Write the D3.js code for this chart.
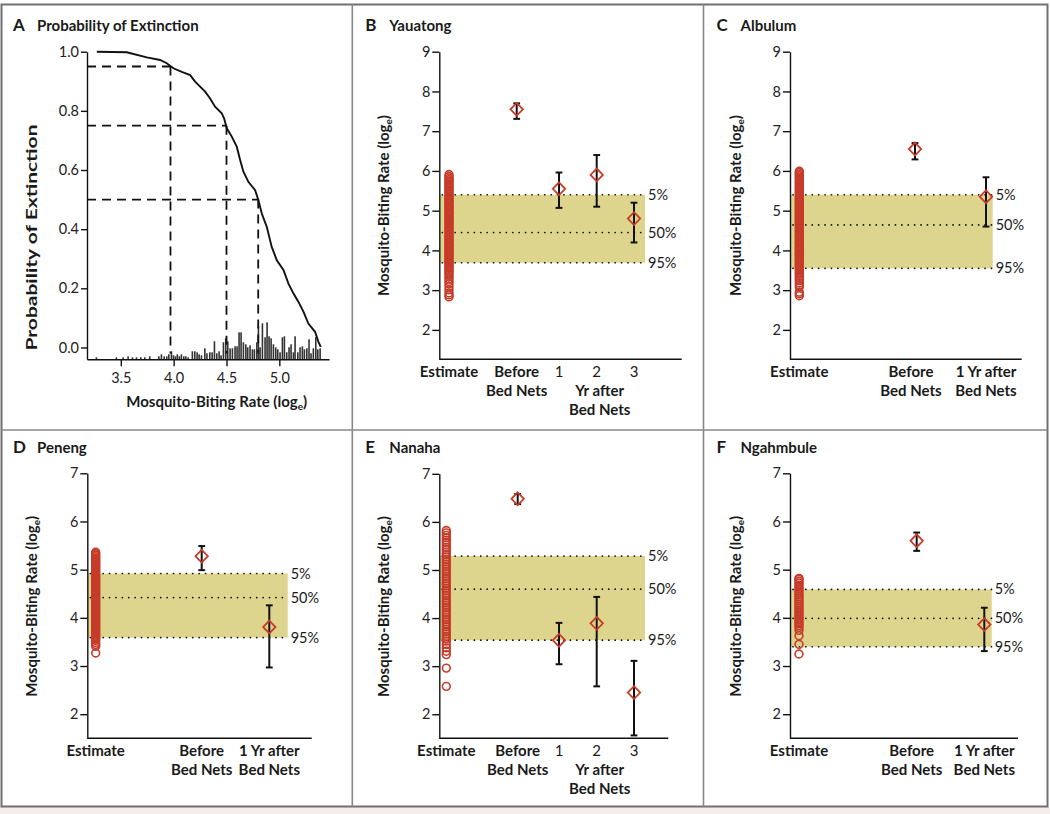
<!DOCTYPE html>
<html lang="en">
<head>
<meta charset="UTF-8"/>
<title>Mosquito-biting rate and extinction</title>
<script src="https://d3js.org/d3.v7.min.js"></script>
<style>
  body { margin: 0; background: #fff; }
  text { font-family: Lato, "Open Sans", sans-serif; fill: #1a1a1a; }
  .tick text { font-family: Lato, "Open Sans", sans-serif; font-size: 14.5px; fill: #222; }
  .axis .domain, .axis .tick line { stroke: #111; stroke-width: 1.4px; }
</style>
</head>
<body>
<div id="chart"></div>
<script>

// ---- panel A: probability of extinction curve + histogram
var rateA = [3.273, 3.556, 3.746, 3.872, 3.935, 3.998, 4.077, 4.156, 4.203, 4.250, 4.298, 4.345, 4.392, 4.455, 4.477, 4.503,
             4.550, 4.597, 4.629, 4.660, 4.707, 4.771, 4.802, 4.834, 4.881, 4.928, 4.976, 5.039, 5.086, 5.133, 5.181, 5.228,
             5.275, 5.338, 5.370, 5.392]
var probA = [1.000, 0.998, 0.981, 0.972, 0.961, 0.944, 0.932, 0.921, 0.899, 0.882, 0.865, 0.842, 0.814, 0.792, 0.775, 0.741,
             0.713, 0.679, 0.634, 0.594, 0.560, 0.532, 0.498, 0.453, 0.408, 0.340, 0.295, 0.262, 0.216, 0.183, 0.154, 0.121,
             0.081, 0.053, 0.019, 0.002]

var histRate = [3.269, 3.458, 3.522, 3.569, 3.610, 3.648, 3.689, 3.727, 3.774, 3.860, 3.884, 3.910, 3.935, 3.954, 3.979, 3.998,
                4.017, 4.035, 4.054, 4.073, 4.096, 4.115, 4.137, 4.177, 4.200, 4.222, 4.241, 4.263, 4.295, 4.315, 4.342, 4.364,
                4.386, 4.408, 4.430, 4.449, 4.471, 4.493, 4.512, 4.534, 4.556, 4.581, 4.600, 4.619, 4.638, 4.660, 4.683, 4.701,
                4.723, 4.745, 4.764, 4.787, 4.802, 4.818, 4.840, 4.865, 4.884, 4.903, 4.922, 4.944, 4.966, 4.985, 5.007, 5.029,
                5.048, 5.070, 5.092, 5.111, 5.133, 5.149, 5.175, 5.196, 5.218, 5.237, 5.260, 5.281, 5.300, 5.322, 5.345, 5.364, 5.386]
var histCount = [2, 2, 2, 3, 2, 2, 2, 2, 3, 3, 5, 3, 3, 5, 8, 4,
                 3, 5, 3, 5, 3, 3, 2, 8, 8, 7, 5, 4, 11, 6, 7, 7,
                 18, 6, 8, 4, 17, 21, 18, 11, 11, 13, 13, 27, 27, 17, 15, 12,
                 14, 10, 10, 17, 33, 12, 36, 22, 37, 23, 21, 15, 12, 10, 7, 22,
                 23, 7, 12, 15, 7, 23, 7, 12, 13, 10, 11, 20, 6, 11, 22, 10, 11]

var guideProb = [0.95, 0.75, 0.50]
var guideRate = [3.97, 4.50, 4.80]

// ---- site panels
var pctLabels = ["5%", "50%", "95%"]

var catsYr = ["Estimate", "Before", "1", "2", "3"]
var cats1Yr = ["Estimate", "Before", "1 Yr"]

// B Yauatong
var estB = [2.83, 2.88, 2.93, 3.01, 3.09, 3.16, 3.22, 3.28, 3.33, 3.38, 3.43, 3.47, 3.51, 3.55, 3.59, 3.62, 3.66, 3.70, 3.73,
            3.77, 3.81, 3.85, 3.88, 3.92, 3.96, 3.99, 4.03, 4.07, 4.11, 4.14, 4.18, 4.22, 4.26, 4.29, 4.33, 4.37, 4.40, 4.44,
            4.48, 4.52, 4.55, 4.59, 4.63, 4.67, 4.70, 4.74, 4.78, 4.81, 4.85, 4.89, 4.93, 4.96, 5.00, 5.04, 5.08, 5.11, 5.15,
            5.19, 5.22, 5.26, 5.30, 5.34, 5.37, 5.41, 5.45, 5.49, 5.52, 5.56, 5.60, 5.63, 5.67, 5.71, 5.75, 5.78, 5.82, 5.86, 5.91]
var obsB = [7.55, 5.55, 5.90, 4.80]
var lowB = [7.31, 5.07, 5.10, 4.20]
var highB = [7.70, 5.96, 6.40, 5.20]
var bandB = [5.40, 4.45, 3.69]

// C Albulum
var estC = [2.86, 2.91, 2.95, 3.08, 3.13, 3.18, 3.24, 3.30, 3.35, 3.40, 3.44, 3.48, 3.52, 3.56, 3.60, 3.63, 3.67, 3.71, 3.75,
            3.78, 3.82, 3.86, 3.90, 3.93, 3.97, 4.01, 4.05, 4.08, 4.12, 4.16, 4.20, 4.23, 4.27, 4.31, 4.35, 4.38, 4.42, 4.46,
            4.50, 4.53, 4.57, 4.61, 4.65, 4.68, 4.72, 4.76, 4.80, 4.83, 4.87, 4.91, 4.95, 4.98, 5.02, 5.06, 5.10, 5.13, 5.17,
            5.21, 5.25, 5.28, 5.32, 5.36, 5.40, 5.43, 5.47, 5.51, 5.55, 5.58, 5.62, 5.66, 5.70, 5.73, 5.77, 5.81, 5.85, 5.88,
            5.92, 5.96, 5.99]
var obsC = [6.55, 5.35]
var lowC = [6.29, 4.60]
var highC = [6.70, 5.84]
var bandC = [5.40, 4.64, 3.55]

// D Peneng
var estD = [3.27, 3.41, 3.45, 3.49, 3.53, 3.56, 3.59, 3.62, 3.65, 3.68, 3.71, 3.74, 3.77, 3.80, 3.83, 3.86, 3.89, 3.92, 3.95,
            3.98, 4.01, 4.04, 4.07, 4.10, 4.13, 4.16, 4.19, 4.22, 4.25, 4.28, 4.31, 4.34, 4.37, 4.40, 4.43, 4.46, 4.49, 4.52,
            4.55, 4.58, 4.61, 4.64, 4.67, 4.70, 4.73, 4.76, 4.79, 4.82, 4.85, 4.88, 4.91, 4.94, 4.97, 5.00, 5.03, 5.06, 5.09,
            5.12, 5.15, 5.18, 5.21, 5.24, 5.27, 5.30, 5.33, 5.36]
var obsD = [5.28, 3.81]
var lowD = [4.99, 2.97]
var highD = [5.49, 4.26]
var bandD = [4.92, 4.42, 3.59]

// E Nanaha
var estE = [2.58, 2.96, 3.24, 3.31, 3.38, 3.45, 3.52, 3.57, 3.62, 3.67, 3.72, 3.77, 3.82, 3.87, 3.92, 3.97, 4.02, 4.07, 4.12,
            4.17, 4.22, 4.27, 4.32, 4.37, 4.42, 4.47, 4.52, 4.57, 4.62, 4.67, 4.72, 4.77, 4.82, 4.87, 4.92, 4.97, 5.02, 5.07,
            5.12, 5.17, 5.22, 5.27, 5.32, 5.37, 5.42, 5.47, 5.52, 5.57, 5.62, 5.67, 5.72, 5.77, 5.82]
var obsE = [6.48, 3.54, 3.89, 2.45]
var lowE = [6.37, 3.04, 2.58, 1.56]
var highE = [6.58, 3.90, 4.44, 3.11]
var bandE = [5.29, 4.60, 3.54]

// F Ngahmbule
var estF = [3.25, 3.45, 3.63, 3.74, 3.80, 3.84, 3.88, 3.92, 3.96, 4.00, 4.04, 4.08, 4.12, 4.16, 4.20, 4.24, 4.28, 4.32, 4.36,
            4.40, 4.44, 4.48, 4.52, 4.56, 4.60, 4.64, 4.68, 4.72, 4.76, 4.80, 4.82]
var obsF = [5.60, 3.86]
var lowF = [5.39, 3.31]
var highF = [5.77, 4.21]
var bandF = [4.59, 3.99, 3.40]


var RED = "#c73b29"
var BAND = "#ddd48e"

var svg = d3.select("#chart")
  .append("svg")
    .attr("width", 1050)
    .attr("height", 814)

// frame
svg.append("rect").attr("x", 0).attr("y", 807).attr("width", 1050).attr("height", 7).attr("fill", "#f4ede9")
svg.append("rect").attr("x", 1.5).attr("y", 4.5).attr("width", 1046).attr("height", 802)
  .attr("fill", "none").attr("stroke", "#707070").attr("stroke-width", 2)
svg.append("line").attr("x1", 352.3).attr("x2", 352.3).attr("y1", 4.5).attr("y2", 806.5).attr("stroke", "#888").attr("stroke-width", 1.6)
svg.append("line").attr("x1", 703.5).attr("x2", 703.5).attr("y1", 4.5).attr("y2", 806.5).attr("stroke", "#888").attr("stroke-width", 1.6)
svg.append("line").attr("x1", 1.5).attr("x2", 1047.5).attr("y1", 430).attr("y2", 430).attr("stroke", "#888").attr("stroke-width", 1.6)

function title(x0, y, letter, name) {
  svg.append("text").attr("x", x0 + 13).attr("y", y).attr("font-weight", "bold").attr("font-size", 17).text(letter)
  svg.append("text").attr("x", x0 + 37).attr("y", y).attr("font-weight", "bold").attr("font-size", 15).text(name)
}

function rateLabel(x, y, rotate) {
  var t = svg.append("text")
    .attr("transform", "translate(" + x + "," + y + ")" + (rotate ? " rotate(-90)" : ""))
    .attr("text-anchor", "middle").attr("font-weight", "bold").attr("font-size", 15)
  t.append("tspan").text("Mosquito-Biting Rate (log")
  t.append("tspan").attr("dy", 3).attr("font-size", 10).text("e")
  t.append("tspan").attr("dy", -3).text(")")
}

// ================= panel A
var xA = d3.scaleLinear().domain([3.18, 5.47]).range([87, 329])
var yA = d3.scaleLinear().domain([-0.04, 1]).range([359.3, 51.7])
var hA = d3.scaleLinear().domain([0, 40]).range([0, 40])

title(0, 31, "A", "Probability of Extinction")

svg.append("g").selectAll("rect")
  .data(histRate)
  .join("rect")
    .attr("x", function(d) { return xA(d) - 0.8 })
    .attr("width", 1.6)
    .attr("y", function(d, i) { return yA(-0.04) - hA(histCount[i]) })
    .attr("height", function(d, i) { return hA(histCount[i]) })
    .attr("fill", "#333")

var guides = svg.append("g").attr("stroke", "#111").attr("stroke-width", 1.8).attr("stroke-dasharray", "9,6")
guides.selectAll("line.h").data(guideProb).join("line").attr("class", "h")
  .attr("x1", xA.range()[0]).attr("x2", function(d, i) { return xA(guideRate[i]) })
  .attr("y1", function(d) { return yA(d) }).attr("y2", function(d) { return yA(d) })
guides.selectAll("line.v").data(guideRate).join("line").attr("class", "v")
  .attr("x1", function(d) { return xA(d) }).attr("x2", function(d) { return xA(d) })
  .attr("y1", function(d, i) { return yA(guideProb[i]) }).attr("y2", yA(-0.02))

svg.append("path")
  .datum(rateA)
  .attr("fill", "none").attr("stroke", "#111").attr("stroke-width", 1.9)
  .attr("d", d3.line().x(function(d) { return xA(d) }).y(function(d, i) { return yA(probA[i]) }))

svg.append("g").attr("class", "axis").attr("transform", "translate(0," + yA(-0.04) + ")")
  .call(d3.axisBottom(xA).tickValues([3.5, 4.0, 4.5, 5.0]).tickFormat(d3.format(".1f")).tickSize(7).tickPadding(6).tickSizeOuter(0))
svg.append("g").attr("class", "axis").attr("transform", "translate(" + xA.range()[0] + ",0)")
  .call(d3.axisLeft(yA).tickValues([0, 0.2, 0.4, 0.6, 0.8, 1.0]).tickFormat(d3.format(".1f")).tickSize(6).tickPadding(2).tickSizeOuter(0))

svg.append("text")
  .attr("transform", "translate(36.5,237.5) rotate(-90)")
  .attr("text-anchor", "middle").attr("font-weight", "bold").attr("font-size", 15)
  .attr("textLength", 226).attr("lengthAdjust", "spacingAndGlyphs")
  .text("Probability of Extinction")
rateLabel(216.7, 407.3, false)

// ================= site panels
var labelsYr = [
  {t: "Estimate", c: 0, row: 0, b: true}, {t: "Before", c: 1, row: 0, b: true}, {t: "Bed Nets", c: 1, row: 1, b: true},
  {t: "1", c: 2, row: 0, b: false}, {t: "2", c: 3, row: 0, b: false}, {t: "3", c: 4, row: 0, b: false},
  {t: "Yr after", c: 3, row: 1, b: true, dx: 3}, {t: "Bed Nets", c: 3, row: 2, b: true, dx: 3}
]
var labels1Yr = [
  {t: "Estimate", c: 0, row: 0, b: true}, {t: "Before", c: 1, row: 0, b: true}, {t: "Bed Nets", c: 1, row: 1, b: true},
  {t: "1 Yr after", c: 2, row: 0, b: true}, {t: "Bed Nets", c: 2, row: 1, b: true}
]

var panels = [
  {x0: 352.3, letter: "B", name: "Yauatong", axisX: 439.3, right: 681.7, top: 51.7, bottom: 359.3, yDom: [1.26, 9], ticks: [2, 3, 4, 5, 6, 7, 8, 9],
   cats: catsYr, catX: [449, 516.7, 559, 596.7, 634], bandRight: 645, est: estB, obs: obsB, low: lowB, high: highB, band: bandB, labels: labelsYr},
  {x0: 703.5, letter: "C", name: "Albulum", axisX: 790, right: 1021.7, top: 51.7, bottom: 359.3, yDom: [1.26, 9], ticks: [2, 3, 4, 5, 6, 7, 8, 9],
   cats: cats1Yr, catX: [799.3, 915, 986], bandRight: 992.7, est: estC, obs: obsC, low: lowC, high: highC, band: bandC, labels: labels1Yr, beforeDx: -4},
  {x0: 0, letter: "D", name: "Peneng", axisX: 87.3, right: 311.7, top: 473.3, bottom: 738.3, yDom: [1.5, 7], ticks: [2, 3, 4, 5, 6, 7],
   cats: cats1Yr, catX: [95.7, 201.7, 269.3], bandRight: 287.7, est: estD, obs: obsD, low: lowD, high: highD, band: bandD, labels: labels1Yr, beforeDx: 0},
  {x0: 352.3, letter: "E", name: "Nanaha", axisX: 439.3, right: 668.3, top: 473.8, bottom: 738.3, yDom: [1.5, 7], ticks: [2, 3, 4, 5, 6, 7],
   cats: catsYr, catX: [446.3, 517.7, 559, 596.7, 634], bandRight: 645, est: estE, obs: obsE, low: lowE, high: highE, band: bandE, labels: labelsYr},
  {x0: 703.5, letter: "F", name: "Ngahmbule", axisX: 790, right: 1018, top: 473.3, bottom: 738.3, yDom: [1.5, 7], ticks: [2, 3, 4, 5, 6, 7],
   cats: cats1Yr, catX: [799, 916.7, 984.3], bandRight: 991.7, est: estF, obs: obsF, low: lowF, high: highF, band: bandF, labels: labels1Yr, beforeDx: -5}
]

panels.forEach(function(p) {
  var g = svg.append("g")
  var y = d3.scaleLinear().domain(p.yDom).range([p.bottom, p.top])
  var x = d3.scaleOrdinal().domain(p.cats).range(p.catX)

  title(p.x0, p.top > 300 ? 453.3 : 31, p.letter, p.name)

  // 5-95% band of the estimates
  g.append("rect")
    .attr("x", p.axisX + 0.7).attr("width", p.bandRight - p.axisX - 0.7)
    .attr("y", y(p.band[0])).attr("height", y(p.band[2]) - y(p.band[0]))
    .attr("fill", BAND)
  g.selectAll("line.pct").data(p.band).join("line").attr("class", "pct")
    .attr("x1", p.axisX + 3).attr("x2", p.bandRight)
    .attr("y1", function(d) { return y(d) }).attr("y2", function(d) { return y(d) })
    .attr("stroke", "#111").attr("stroke-width", 1.7).attr("stroke-linecap", "round")
    .attr("stroke-dasharray", "0.1,6.3")
  g.selectAll("text.pct").data(p.band).join("text").attr("class", "pct")
    .attr("x", p.bandRight + 3).attr("y", function(d) { return y(d) })
    .attr("dy", "0.35em").attr("font-size", 14.5)
    .text(function(d, i) { return pctLabels[i] })

  // axes
  g.append("g").attr("class", "axis").attr("transform", "translate(" + p.axisX + ",0)")
    .call(d3.axisLeft(y).tickValues(p.ticks).tickFormat(d3.format("d")).tickSize(7).tickPadding(2).tickSizeOuter(0))
  g.append("line").attr("x1", p.axisX).attr("x2", p.right).attr("y1", p.bottom).attr("y2", p.bottom)
    .attr("stroke", "#111").attr("stroke-width", 1.4)

  // simulated estimates
  g.append("g").selectAll("circle")
    .data(p.est)
    .join("circle")
      .attr("cx", x("Estimate"))
      .attr("cy", function(d) { return y(d) })
      .attr("r", 3.9)
      .attr("fill", "none").attr("stroke", RED).attr("stroke-width", 1.6)

  // observed rates with error bars
  var obs = p.obs.map(function(v, i) { return {cat: p.cats[i + 1], v: v, lo: p.low[i], hi: p.high[i]} })
  var eb = g.append("g").attr("stroke", "#111").attr("stroke-width", 2)
  eb.selectAll("line.bar").data(obs).join("line").attr("class", "bar")
    .attr("x1", function(d) { return x(d.cat) }).attr("x2", function(d) { return x(d.cat) })
    .attr("y1", function(d) { return y(d.lo) }).attr("y2", function(d) { return y(d.hi) })
  eb.selectAll("line.lo").data(obs).join("line").attr("class", "lo")
    .attr("x1", function(d) { return x(d.cat) - 3.4 }).attr("x2", function(d) { return x(d.cat) + 3.4 })
    .attr("y1", function(d) { return y(d.lo) }).attr("y2", function(d) { return y(d.lo) })
  eb.selectAll("line.hi").data(obs).join("line").attr("class", "hi")
    .attr("x1", function(d) { return x(d.cat) - 3.4 }).attr("x2", function(d) { return x(d.cat) + 3.4 })
    .attr("y1", function(d) { return y(d.hi) }).attr("y2", function(d) { return y(d.hi) })
  g.selectAll("path.dia").data(obs).join("path").attr("class", "dia")
    .attr("transform", function(d) { return "translate(" + x(d.cat) + "," + y(d.v) + ")" })
    .attr("d", "M0,-6.4L6.2,0L0,6.4L-6.2,0Z")
    .attr("fill", "none").attr("stroke", RED).attr("stroke-width", 1.8)

  // category labels
  g.selectAll("text.cat").data(p.labels).join("text").attr("class", "cat")
    .attr("x", function(d) { return p.catX[d.c] + (d.dx || 0) + (d.c === 1 && p.beforeDx ? p.beforeDx : 0) })
    .attr("y", function(d) { return p.bottom + 18 + d.row * 18.7 })
    .attr("text-anchor", "middle").attr("font-size", 15)
    .attr("font-weight", function(d) { return d.b ? "bold" : "normal" })
    .text(function(d) { return d.t })

  rateLabel(p.x0 + 37, (p.top + p.bottom) / 2 + (p.top > 300 ? 0.5 : 0), true)
})

</script>
</body>
</html>
